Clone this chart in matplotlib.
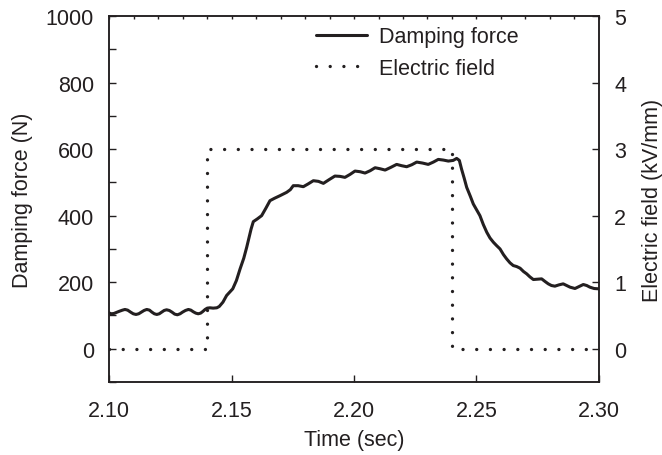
import matplotlib
matplotlib.use("Agg")
import matplotlib.pyplot as plt
from matplotlib.ticker import MultipleLocator, FormatStrFormatter

plt.rcParams['font.family'] = ['Liberation Sans', 'DejaVu Sans']

# Damping force (N) vs time (s)
time_force = [2.1000, 2.1005, 2.1010, 2.1020, 2.1040, 2.1055, 2.1065, 2.1076, 2.1088, 2.1099,
              2.1110, 2.1121, 2.1132, 2.1143, 2.1154, 2.1165, 2.1175, 2.1185, 2.1195, 2.1205,
              2.1215, 2.1225, 2.1235, 2.1246, 2.1257, 2.1268, 2.1279, 2.1290, 2.1300, 2.1312,
              2.1324, 2.1334, 2.1344, 2.1354, 2.1364, 2.1374, 2.1383, 2.1392, 2.1401, 2.1412,
              2.1425, 2.1440, 2.1450, 2.1465, 2.1480, 2.1495, 2.1505, 2.1520, 2.1535, 2.1550,
              2.1562, 2.1580, 2.1589, 2.1605, 2.1623, 2.1640, 2.1657, 2.1675, 2.1698, 2.1725,
              2.1740, 2.1752, 2.1772, 2.1793, 2.1812, 2.1834, 2.1855, 2.1875, 2.1898, 2.1922,
              2.1943, 2.1963, 2.1984, 2.2004, 2.2025, 2.2045, 2.2066, 2.2086, 2.2106, 2.2127,
              2.2150, 2.2174, 2.2195, 2.2215, 2.2236, 2.2256, 2.2280, 2.2303, 2.2324, 2.2344,
              2.2365, 2.2385, 2.2405, 2.2419, 2.2430, 2.2439, 2.2450, 2.2460, 2.2475, 2.2487,
              2.2500, 2.2514, 2.2528, 2.2542, 2.2555, 2.2569, 2.2582, 2.2596, 2.2610, 2.2623,
              2.2637, 2.2650, 2.2664, 2.2678, 2.2692, 2.2705, 2.2718, 2.2732, 2.2749, 2.2766,
              2.2780, 2.2793, 2.2806, 2.2820, 2.2837, 2.2854, 2.2868, 2.2882, 2.2902, 2.2919,
              2.2936, 2.2950, 2.2963, 2.2980, 2.3000]
force = [108, 106, 105, 106, 112, 116, 118, 116, 110, 105,
         103, 105, 110, 115, 118, 116, 110, 105, 103, 105,
         110, 115, 117, 115, 110, 104, 102, 105, 110, 115,
         118, 116, 111, 107, 105, 107, 112, 118, 122, 123,
         122, 123, 127, 140, 160, 172, 180, 205, 240, 272,
         305, 360, 382, 390, 400, 422, 445, 452, 460, 470,
         478, 490, 490, 487, 495, 505, 503, 497, 508, 519,
         518, 515, 524, 534, 532, 528, 535, 544, 541, 537,
         545, 554, 550, 547, 553, 561, 558, 554, 561, 569,
         567, 564, 566, 572, 566, 540, 512, 485, 458, 435,
         418, 400, 373, 350, 333, 320, 310, 300, 283, 270,
         258, 250, 247, 242, 232, 225, 216, 208, 209, 210,
         202, 195, 190, 188, 192, 195, 190, 185, 181, 187,
         193, 190, 185, 181, 180]

# Electric field (kV/mm) vs time (s)
time_field = [2.10, 2.14, 2.14, 2.24, 2.24, 2.30]
field = [0, 0, 3, 3, 0, 0]

x_ticks = [2.10, 2.15, 2.20, 2.25, 2.30]
left_ticks = [0, 200, 400, 600, 800, 1000]
right_ticks = [0, 1, 2, 3, 4, 5]

ink = '#231f20'
fs = 15.5

fig = plt.figure(figsize=(6.62, 4.56), dpi=100)
ax = fig.add_axes([0.1647, 0.1601, 0.7401, 0.8026])
ax2 = ax.twinx()

l1, = ax.plot(time_force, force, color=ink, lw=2.2, solid_joinstyle='round',
              solid_capstyle='round', label='Damping force')
l2, = ax2.plot(time_field, field, color=ink, lw=2.4, dashes=(0.01, 4.1),
               dash_capstyle='round', label='Electric field')

ax.set_xlim(2.10, 2.30)
ax.set_ylim(-100, 1000)
ax2.set_ylim(-0.5, 5)

ax.set_xticks(x_ticks)
ax.xaxis.set_major_formatter(FormatStrFormatter('%.2f'))
ax.xaxis.set_minor_locator(MultipleLocator(0.01))
ax.xaxis.remove_overlapping_locs = False
ax.set_yticks(left_ticks)
ax.yaxis.set_minor_locator(MultipleLocator(100))
ax2.set_yticks(right_ticks)

ax.tick_params(axis='x', which='major', direction='in', length=5, width=1, pad=13,
               labelsize=fs, colors=ink, top=False)
ax.tick_params(axis='x', which='minor', direction='in', length=2.5, width=1,
               bottom=False, top=True, colors=ink)
ax.tick_params(axis='y', which='both', direction='in', length=5, width=1, pad=11,
               labelsize=fs, colors=ink, right=False)
ax2.tick_params(axis='y', which='major', direction='in', length=5, width=1, pad=11,
                labelsize=fs, colors=ink)

for a in (ax, ax2):
    for s in a.spines.values():
        s.set_color(ink)
        s.set_linewidth(1.1)

ax.set_xlabel('Time (sec)', fontsize=fs, color=ink, labelpad=6)
ax.set_ylabel('Damping force (N)', fontsize=fs, color=ink, labelpad=9)
ax2.set_ylabel('Electric field (kV/mm)', fontsize=fs, color=ink, labelpad=11)

leg = ax.legend([l1, l2], ['Damping force', 'Electric field'], loc='upper left',
                bbox_to_anchor=(0.4224, 0.972), borderaxespad=0, borderpad=0,
                frameon=False, fontsize=fs, handlelength=2.35, handletextpad=0.6,
                labelspacing=0.5)
for t in leg.get_texts():
    t.set_color(ink)

fig.savefig('out.png', dpi=100)
